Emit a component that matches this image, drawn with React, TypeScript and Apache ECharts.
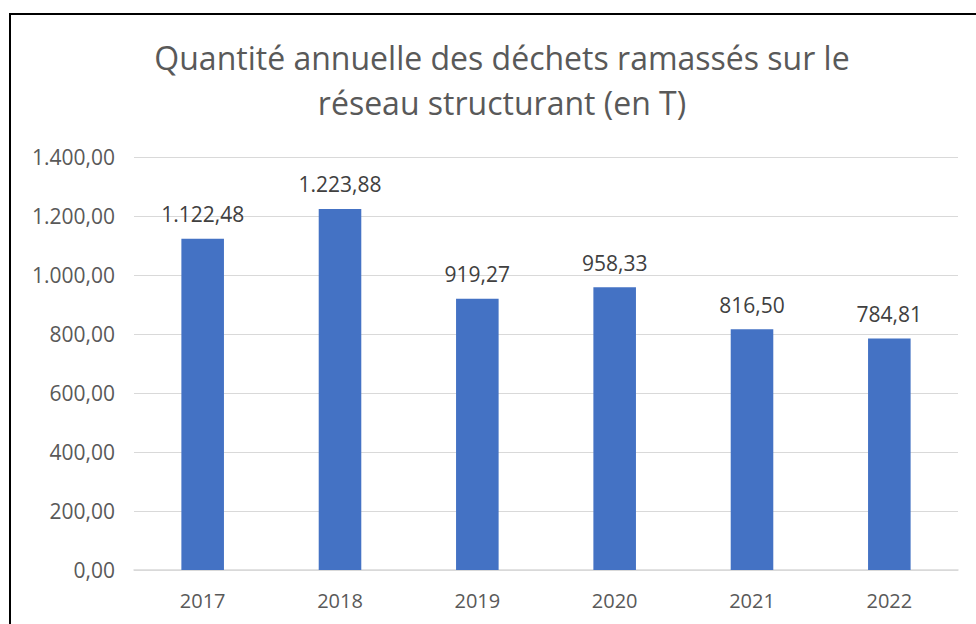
import React, { useEffect, useRef } from "react";
import * as echarts from "echarts";

const categories = ["2017", "2018", "2019", "2020", "2021", "2022"];
const values = [1122.48, 1223.88, 919.27, 958.33, 816.5, 784.81];
const titleText = "Quantité annuelle des déchets ramassés sur le\nréseau structurant (en T)";

function fmt(v: number): string {
  const fixed = v.toFixed(2);
  const [ip, dp] = fixed.split(".");
  const withSep = ip.replace(/\B(?=(\d{3})+(?!\d))/g, ".");
  return withSep + "," + dp;
}

export default function App() {
  const ref = useRef<HTMLDivElement>(null);
  useEffect(() => {
    if (!ref.current) return;
    const chart = echarts.init(ref.current, undefined, { renderer: "svg" });
    const font = "'Open Sans', 'Noto Sans', sans-serif";
    chart.setOption({
      animation: false,
      backgroundColor: "#ffffff",
      textStyle: { fontFamily: font },
      title: {
        text: titleText,
        left: 497,
        top: 30,
        textAlign: "center",
        textStyle: {
          fontFamily: font,
          fontSize: 32,
          fontWeight: "normal",
          color: "#595959",
          lineHeight: 45,
        },
      },
      graphic: [
        {
          type: "rect",
          shape: { x: 10, y: 14, width: 1000, height: 700 },
          style: { fill: "none", stroke: "#000000", lineWidth: 2 },
          z: 100,
        },
      ],
      grid: { left: 134, right: 18, top: 157, bottom: 54, containLabel: false },
      xAxis: {
        type: "category",
        data: categories,
        axisLine: { show: true, lineStyle: { color: "#d9d9d9", width: 1.5 } },
        axisTick: { show: false },
        axisLabel: { color: "#595959", fontSize: 20, margin: 20, fontFamily: font },
      },
      yAxis: {
        type: "value",
        min: 0,
        max: 1400,
        interval: 200,
        axisLine: { show: false },
        axisTick: { show: false },
        splitLine: { lineStyle: { color: "#d9d9d9", width: 1.2 } },
        axisLabel: {
          color: "#595959",
          fontSize: 21,
          margin: 19,
          fontFamily: font,
          formatter: (v: number) => fmt(v),
        },
      },
      series: [
        {
          type: "bar",
          data: values,
          barWidth: "31%",
          itemStyle: { color: "#4472c4" },
          label: {
            show: true,
            position: "top",
            distance: 14,
            color: "#404040",
            fontSize: 21,
            fontFamily: font,
            formatter: (p: any) => fmt(p.value),
          },
        },
      ],
    });
    return () => chart.dispose();
  }, []);
  return (
    <div
      ref={ref}
      style={{ position: "fixed", left: 0, top: 0, width: 976, height: 624 }}
    />
  );
}
